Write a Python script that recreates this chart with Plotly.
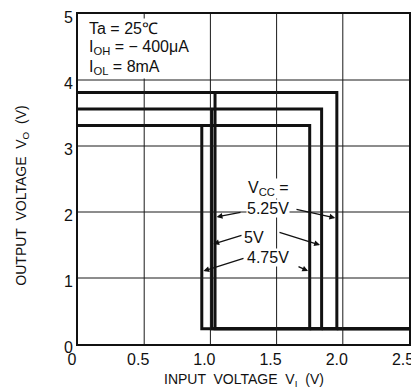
import plotly.graph_objects as go

# ---- data ----
vcc_labels = ["4.75V", "5V", "5.25V"]
voh = [3.31, 3.56, 3.81]          # output high level (V)
vol = [0.23, 0.23, 0.23]          # output low level (V)
vt_plus = [1.75, 1.84, 1.955]     # positive-going threshold (V)
vt_minus = [0.935, 1.01, 1.035]   # negative-going threshold (V)
x_min, x_max = 0.0, 2.5
y_min, y_max = 0.0, 5.0
x_ticks = [0, 0.5, 1.0, 1.5, 2.0, 2.5]
x_ticktext = ["0", "0.5", "1.0", "1.5", "2.0", "2.5"]
y_ticks = [0, 1, 2, 3, 4, 5]
y_ticktext = ["0", "1", "2", "3", "4", "5"]
cond_lines = ["Ta = 25℃", "I<sub>OH</sub> = − 400μA", "I<sub>OL</sub> = 8mA"]

FONT = "Liberation Sans, Arial, sans-serif"
INK = "#111111"

fig = go.Figure()

for i, lab in enumerate(vcc_labels):
    xs = [x_min, vt_plus[i], vt_plus[i], vt_minus[i], vt_minus[i], None, vt_plus[i], x_max]
    ys = [voh[i], voh[i], vol[i], vol[i], voh[i], None, vol[i], vol[i]]
    fig.add_trace(go.Scatter(x=xs, y=ys, mode="lines", name=lab,
                             line=dict(color=INK, width=3), showlegend=False))

# grid lines from the tick arrays, drawn as shapes above the traces
for xv in x_ticks[1:-1]:
    fig.add_shape(type="line", xref="x", yref="y", x0=xv, x1=xv, y0=y_min, y1=y_max,
                  line=dict(color="#1a1a1a", width=1), layer="above")
for yv in y_ticks[1:-1]:
    fig.add_shape(type="line", xref="x", yref="y", x0=x_min, x1=x_max, y0=yv, y1=yv,
                  line=dict(color="#1a1a1a", width=1), layer="above")

# pixel helpers (page pixels of the reference)
def px2x(px):
    return (px - 78) / 132.4

def py2y(py):
    return (344 - py) / 66.0

# conditions box
for txt, py in zip(cond_lines, [28, 47, 67]):
    fig.add_annotation(x=px2x(87), y=py2y(py), xref="x", yref="y",
                       xanchor="left", yanchor="middle", text=txt, align="left",
                       showarrow=False, bgcolor="white", borderpad=1,
                       font=dict(family=FONT, size=16, color=INK))

fig.add_annotation(x=px2x(268), y=py2y(188), xref="x", yref="y", showarrow=False,
                   text="V<sub>CC</sub> =", bgcolor="white", borderpad=0,
                   font=dict(family=FONT, size=16, color=INK))
label_pos = {"5.25V": (268, 208), "5V": (254, 237), "4.75V": (268, 257)}
for lab, (px, py) in label_pos.items():
    fig.add_annotation(x=px2x(px), y=py2y(py), xref="x", yref="y", showarrow=False,
                       text=lab, bgcolor="white", borderpad=0,
                       font=dict(family=FONT, size=16, color=INK))

# arrows from labels to the curves: (index, tail px, tail py, head py, side)
arrows = [
    (2, 242, 212, 217, "minus"), (2, 295, 209, 218, "plus"),
    (1, 243, 235, 244, "minus"), (1, 278, 232, 245, "plus"),
    (0, 245, 258, 271, "minus"), (0, 297, 266, 271, "plus"),
]
for idx, tx, ty, hy, side in arrows:
    hx = vt_minus[idx] if side == "minus" else vt_plus[idx]
    hx = hx + (0.012 if side == "minus" else -0.012)
    fig.add_annotation(x=hx, y=py2y(hy), ax=px2x(tx), ay=py2y(ty),
                       xref="x", yref="y", axref="x", ayref="y",
                       text="", showarrow=True, arrowhead=2, arrowsize=0.9,
                       arrowwidth=1.3, arrowcolor=INK)

# axis titles
fig.add_annotation(x=-0.205, y=0.45, xref="paper", yref="paper", textangle=-90,
                   text="OUTPUT  VOLTAGE  V<sub>O</sub>  (V)", showarrow=False,
                   font=dict(family=FONT, size=14, color=INK))
fig.add_annotation(x=0.5, y=-0.11, xref="paper", yref="paper", yanchor="middle",
                   text="INPUT  VOLTAGE  V<sub>I</sub>  (V)", showarrow=False,
                   font=dict(family=FONT, size=14, color=INK))

axis_common = dict(showline=True, linewidth=2, linecolor=INK, mirror=True,
                   showgrid=False, zeroline=False, ticks="", automargin=False,
                   ticklabeloverflow="allow",
                   tickfont=dict(family=FONT, size=16, color=INK))
fig.update_xaxes(range=[x_min, x_max], tickmode="array", tickvals=x_ticks,
                 ticktext=x_ticktext, ticklabelshift=-6, **axis_common)
fig.update_yaxes(range=[y_min, y_max], tickmode="array", tickvals=y_ticks,
                 ticktext=y_ticktext, ticklabelshift=3, **axis_common)

# page has an 8px body margin: shrink the figure so the plot lands where the reference's does
fig.update_layout(template="none", width=411, height=381,
                  margin=dict(l=70, r=10, t=6, b=45),
                  plot_bgcolor="white", paper_bgcolor="white",
                  font=dict(family=FONT, color=INK))

fig.write_html("out.html")
